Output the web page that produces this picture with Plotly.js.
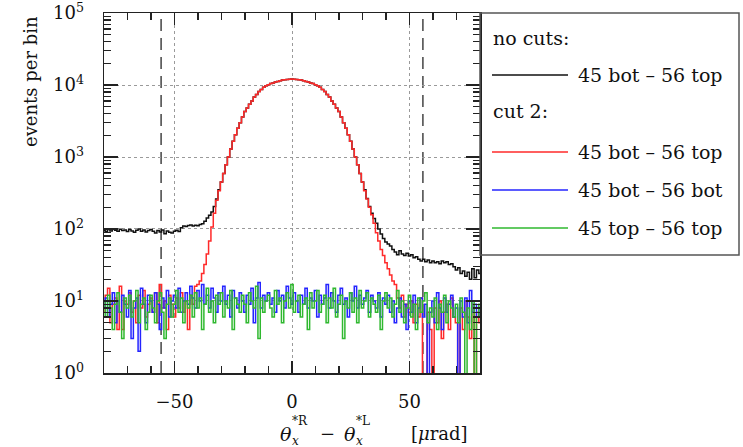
<!DOCTYPE html>
<html>
<head>
<meta charset="utf-8">
<script src="https://cdn.plot.ly/plotly-3.0.1.min.js"></script>
<style>html,body{margin:0;padding:0;background:#fff;}#chart{width:743px;height:447px;}</style>
</head>
<body>
<div id="chart"></div>
<script>
// ---- data (events per bin), bins of 1 µrad centred on integers -80 ... 80 ----
const binFirst = -80;
const binWidth = 1;

// common core, theta from -30 to 30
const coreCounts = [450, 590, 780, 1000, 1290, 1660, 2040, 2500, 3000, 3600,
  4300, 4800, 5400, 6000, 6800, 7400, 8100, 8700, 9300, 9800,
  10100, 10500, 10700, 11000, 11200, 11500, 11700, 11800, 11900, 12000,
  12100,
  12000, 11900, 11800, 11700, 11500, 11200, 11000, 10700, 10500, 10100,
  9800, 9300, 8700, 8100, 7400, 6800, 6000, 5400, 4800, 4300,
  3600, 3000, 2500, 2040, 1660, 1290, 1000, 780, 590, 450];

// no cuts, 45 bot - 56 top: -80 ... -31 and 31 ... 80
const noCutsLeft = [95, 92, 98, 94, 100, 96, 93, 99, 95, 97,
  92, 98, 94, 90, 96, 100, 93, 97, 91, 95,
  98, 93, 88, 95, 91, 97, 86, 94, 90, 88,
  93, 96, 92, 104, 110, 108,
  112, 114, 110, 113, 111, 115,
  118, 128, 142, 155, 172, 205, 262, 350];
const noCutsRight = [350, 265, 205, 165, 140, 120, 100, 85, 74, 66,
  62, 58, 52, 48, 44, 50, 45, 43, 46, 42,
  44, 40, 41, 38, 36, 38, 35, 37, 34, 36,
  34, 35, 33, 36, 34, 35, 32, 33, 30, 27,
  29, 24, 26, 22, 25, 20, 28, 21, 27, 24];

// cut 2, 45 bot - 56 top: -80 ... -31 and 31 ... 80
const cut2BtLeft = [7, 12, 15, 5, 9, 11, 4, 16, 4, 10,
  9, 13, 7, 10, 5, 12, 8, 14, 6, 9,
  11, 7, 13, 5, 17, 8, 10, 4, 12, 9,
  6, 11, 8, 13, 7, 10, 4, 12, 9,
  16, 17, 19, 24, 32, 45, 68, 107, 166, 250, 340];
const cut2BtRight = [340, 260, 200, 158, 120, 89, 68, 52, 43, 34,
  28, 23, 19, 17, 11,
  8, 12, 6, 9,
  7, 10, 5, 9, 6, 11, 0, 0, 7, 4,
  0, 8, 5, 10, 3, 7, 9, 4, 11, 6,
  5, 0, 8, 4, 10, 6, 3, 9, 0, 7,
  5];

// cut 2, 45 bot - 56 bot: -80 ... 80
const cut2BbCounts = [8, 11, 6, 9, 13, 5, 10, 7, 12, 9,
  6, 14, 3, 8, 11, 2, 15, 9, 5, 12,
  10, 7, 13, 9, 4, 11, 8, 14, 6, 10,
  12, 8, 15, 7, 10, 13, 9, 16, 11, 8,
  14, 10, 17, 9, 12, 8, 15, 11, 7, 13,
  10, 16, 9, 12, 6, 14, 11, 8, 13, 10,
  7, 12, 9, 15, 5, 11, 18, 8, 12, 10,
  13, 9, 11, 7, 14, 10, 12, 8, 16, 11,
  9, 13, 10, 7, 12, 9, 15, 8, 11, 10,
  14, 6, 12, 9, 11, 17, 8, 13, 10, 7,
  12, 15, 9, 11, 6, 13, 10, 16, 8, 12,
  9, 11, 14, 7, 12, 10, 8, 13, 6, 11,
  9, 12, 7, 10, 5, 8, 11, 6, 9, 4,
  10, 7, 12, 5, 8, 11, 6, 9, 0, 7,
  10, 5, 13, 8, 4, 11, 7, 9, 12, 6,
  8, 0, 10, 6, 11, 5, 14, 7, 9, 6,
  8];

// cut 2, 45 top - 56 top: -80 ... 80
const cut2TtCounts = [10, 6, 12, 8, 4, 9, 13, 7, 3, 11,
  8, 12, 6, 10, 14, 5, 9, 11, 4, 7,
  12, 8, 5, 10, 13, 7, 3, 9, 11, 6,
  9, 14, 7, 11, 5, 10, 8, 12, 6, 13,
  8, 11, 4, 9, 15, 7, 10, 5, 12, 9,
  13, 6, 10, 8, 14, 4, 11, 9, 7, 12,
  9, 5, 13, 10, 8, 16, 3, 11, 7, 10,
  12, 8, 6, 14, 9, 11, 5, 10, 13, 8,
  17, 7, 10, 12, 6, 9, 11, 4, 13, 8,
  10, 14, 7, 9, 12, 5, 11, 8, 15, 6,
  9, 12, 3, 10, 8, 13, 7, 11, 5, 14,
  8, 10, 13, 6, 11, 9, 7, 12, 4, 10,
  13, 8, 11, 6, 9, 14, 7, 10, 5, 8,
  12, 6, 9, 4, 11, 7, 10, 13, 5, 8,
  6, 11, 4, 9, 7, 12, 5, 10, 8, 6,
  9, 5, 11, 7, 0, 8, 4, 10, 0, 6,
  9];

const cutLimits = [-55.7, 55.7];
const seriesNames = ['45 bot – 56 top', '45 bot – 56 top', '45 bot – 56 bot', '45 top – 56 top'];
const seriesColors = ['#111111', '#ff2a2a', '#2424ff', '#2fb82f'];
const yTickVals = [1, 10, 100, 1000, 10000, 100000];
const yTickText = ['10<sup>0</sup>', '10<sup>1</sup>', '10<sup>2</sup>', '10<sup>3</sup>', '10<sup>4</sup>', '10<sup>5</sup>'];
const xTickVals = [-50, 0, 50];
const xTickText = ['−50', '0', '50'];

// ---- build ----
const noCuts = noCutsLeft.concat(coreCounts, noCutsRight);
const cut2Bt = cut2BtLeft.concat(coreCounts, cut2BtRight);
const allSeries = [noCuts, cut2Bt, cut2BbCounts, cut2TtCounts];
const xs = noCuts.map((_, i) => binFirst + i * binWidth);

// empty bins go to the bottom of the log axis (drawn below range, clipped)
const drawVals = arr => arr.map(v => v > 0 ? v : 0.1);

const traces = allSeries.map((arr, k) => ({
  x: xs, y: drawVals(arr), type: 'scatter', mode: 'lines',
  line: {shape: 'hvh', color: seriesColors[k], width: 1.5},
  name: seriesNames[k], hoverinfo: 'skip'
}));

// pixel helpers for layout items (plot area 104..480 x 13..373)
const L = 104, R = 480, T = 13, B = 373;
const px = p => (p - L) / (R - L);
const py = p => (B - p) / (B - T);

const font = 'DejaVu Serif';
const shapes = cutLimits.map(c => ({
  type: 'line', xref: 'x', yref: 'paper', x0: c, x1: c, y0: 0, y1: 1,
  line: {color: '#444', width: 1.5, dash: '12px,7px'}, layer: 'below'
}));
// legend frame
shapes.push({type: 'rect', xref: 'paper', yref: 'paper', x0: px(480), x1: px(739), y0: py(255), y1: py(13),
  line: {color: '#555', width: 1.5}, fillcolor: 'rgba(0,0,0,0)'});
const legendRows = [75, 152, 190, 228];
legendRows.forEach((yy, k) => {
  shapes.push({type: 'line', xref: 'paper', yref: 'paper', x0: px(492), x1: px(568), y0: py(yy), y1: py(yy),
    line: {color: seriesColors[k], width: 1.3}});
});

const ann = [];
const mkFont = s => ({family: font, size: s, color: '#111'});
const txt = (x, y, text, opts) => ann.push(Object.assign({
  xref: 'paper', yref: 'paper', x: px(x), y: py(y), text: text, showarrow: false,
  xanchor: 'left', yanchor: 'middle', font: mkFont(19)
}, opts || {}));
txt(491, 38, 'no cuts:');
txt(491, 111, 'cut 2:');
legendRows.forEach((yy, k) => txt(576, yy, seriesNames[k]));
// y title
txt(30, 82, 'events per bin', {textangle: -90, xanchor: 'center', yanchor: 'middle', font: mkFont(18)});
// x title
txt(278, 434, '<i>θ</i>', {font: mkFont(19)});
txt(290, 421, '*R', {font: mkFont(12)});
txt(290, 441, '<i>x</i>', {font: mkFont(12)});
txt(318, 433, '−', {font: mkFont(18)});
txt(342, 434, '<i>θ</i>', {font: mkFont(19)});
txt(354, 421, '*L', {font: mkFont(12)});
txt(354, 441, '<i>x</i>', {font: mkFont(12)});
txt(409, 433, '[<i>μ</i>rad]', {font: mkFont(18)});

const axisCommon = {
  ticks: 'inside', tickcolor: '#222', tickwidth: 1.2, showline: true, linecolor: '#222', linewidth: 1.5,
  mirror: 'ticks', showgrid: true, gridcolor: '#9a9a9a', griddash: 'dot', gridwidth: 1, zeroline: false,
  tickfont: mkFont(18), ticklabeloverflow: 'allow'
};

const layout = {
  width: 743, height: 447,
  margin: {l: L, r: 743 - R, t: T, b: 447 - B},
  paper_bgcolor: '#fff', plot_bgcolor: '#fff', showlegend: false,
  font: mkFont(18),
  xaxis: Object.assign({}, axisCommon, {
    range: [-80, 80], tickmode: 'array', tickvals: xTickVals, ticktext: xTickText, ticklen: 12,
    ticklabelstandoff: 12,
    minor: {tickmode: 'array', tickvals: [-70, -60, -40, -30, -20, -10, 10, 20, 30, 40, 60, 70],
      ticks: 'inside', ticklen: 7, tickcolor: '#222', showgrid: false}
  }),
  yaxis: Object.assign({}, axisCommon, {
    type: 'log', range: [-0.0005, 5.0005], tickmode: 'array', tickvals: yTickVals, ticktext: yTickText, ticklen: 14,
    ticklabelstandoff: 15,
    minor: {tickmode: 'array',
      tickvals: [2,3,4,5,6,7,8,9,20,30,40,50,60,70,80,90,200,300,400,500,600,700,800,900,
        2000,3000,4000,5000,6000,7000,8000,9000,20000,30000,40000,50000,60000,70000,80000,90000],
      ticks: 'inside', ticklen: 7, tickcolor: '#222', showgrid: false}
  }),
  shapes: shapes,
  annotations: ann
};

Plotly.newPlot('chart', traces, layout, {staticPlot: true, displayModeBar: false});
</script>
</body>
</html>
